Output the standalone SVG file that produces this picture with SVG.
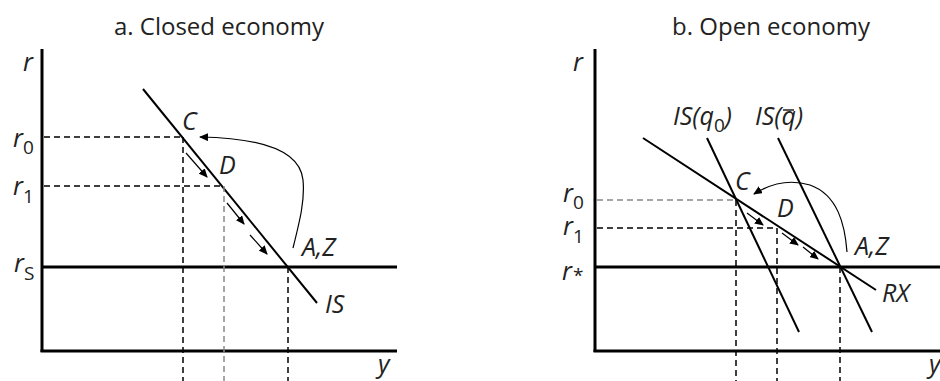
<svg xmlns="http://www.w3.org/2000/svg" width="940" height="381" viewBox="0 0 940 381">
<style>
.title{font-family:"Open Sans","Noto Sans",sans-serif;font-size:24px;fill:#222;text-anchor:middle}
.lbl{font-family:"Open Sans","Noto Sans",sans-serif;font-size:25px;font-style:italic;fill:#222}
.sub{font-size:19px;font-style:normal}
.axis{stroke:#000;stroke-width:3;fill:none}
.curve{stroke:#000;stroke-width:2;fill:none}
.dash{stroke:#000;stroke-width:1.5;stroke-dasharray:6 4;fill:none}
.dashg{stroke:#888;stroke-width:1.5;stroke-dasharray:6 4;fill:none}
.arr{stroke:#000;stroke-width:1.2;fill:none;marker-end:url(#ah)}
</style>
<defs>
<marker id="ah" markerUnits="userSpaceOnUse" markerWidth="10" markerHeight="8" refX="8" refY="4" orient="auto">
<path d="M0,0 L9,4 L0,8 Z" fill="#000"/>
</marker>
</defs>
<rect width="940" height="381" fill="#fff"/>

<g id="panel-a">
<text class="title" x="219" y="35">a. Closed economy</text>
<g id="a-axes">
<line class="axis" x1="42" y1="49" x2="42" y2="352"/>
<line class="axis" x1="40.5" y1="351" x2="397" y2="351"/>
<line class="axis" x1="42" y1="267" x2="397" y2="267"/>
</g>
<g id="a-IS"><line class="curve" x1="143" y1="89" x2="317" y2="303"/></g>
<g id="a-dashes">
<line class="dash" x1="44" y1="137" x2="183" y2="137"/>
<line class="dash" x1="44" y1="186" x2="224" y2="186"/>
<line class="dash" x1="183" y1="137" x2="183" y2="381"/>
<line class="dashg" x1="224" y1="186" x2="224" y2="381"/>
<line class="dash" x1="288" y1="267" x2="288" y2="381"/>
</g>
<g id="a-arrows">
<line class="arr" x1="186" y1="153" x2="207" y2="177"/>
<line class="arr" x1="227" y1="203" x2="244" y2="224"/>
<line class="arr" x1="250" y1="235" x2="267" y2="254"/>
<path class="arr" d="M293,248 C300,220 305,200 303,180 C300,150 260,138 200,137"/>
</g>
<g id="a-labels">
<text class="lbl" x="23" y="71">r</text>
<text class="lbl" x="13" y="147">r<tspan class="sub" x="23" y="154">0</tspan></text>
<text class="lbl" x="13" y="195">r<tspan class="sub" x="23" y="203">1</tspan></text>
<text class="lbl" x="14" y="272">r<tspan class="sub" x="24" y="280">S</tspan></text>
<text class="lbl" x="182" y="130">C</text>
<text class="lbl" x="219" y="174">D</text>
<text class="lbl" x="302" y="256">A,Z</text>
<text class="lbl" x="325" y="313">IS</text>
<text class="lbl" x="378" y="373">y</text>
</g>
</g>

<g id="panel-b">
<text class="title" x="771" y="35">b. Open economy</text>
<g id="b-axes">
<line class="axis" x1="595" y1="49" x2="595" y2="352"/>
<line class="axis" x1="593.5" y1="351" x2="940" y2="351"/>
<line class="axis" x1="595" y1="267" x2="940" y2="267"/>
</g>
<g id="b-lines">
<line class="curve" x1="643" y1="138" x2="876" y2="290"/>
<line class="curve" x1="707" y1="138" x2="799" y2="332"/>
<line class="curve" x1="778" y1="138" x2="872" y2="332"/>
</g>
<g id="b-dashes">
<line class="dashg" x1="597" y1="200" x2="736" y2="200"/>
<line class="dash" x1="597" y1="228" x2="777" y2="228"/>
<line class="dash" x1="736" y1="200" x2="736" y2="381"/>
<line class="dash" x1="777" y1="228" x2="777" y2="381"/>
<line class="dash" x1="840" y1="267" x2="840" y2="381"/>
</g>
<g id="b-arrows">
<line class="arr" x1="747" y1="213" x2="763" y2="225"/>
<line class="arr" x1="782" y1="233" x2="798" y2="245"/>
<line class="arr" x1="803" y1="247" x2="818" y2="259"/>
<path class="arr" d="M847,252 C845,225 838,195 810,185 C790,179 770,184 754,194"/>
</g>
<g id="b-labels">
<text class="lbl" x="573" y="71">r</text>
<text class="lbl" x="563" y="202">r<tspan class="sub" x="573" y="209">0</tspan></text>
<text class="lbl" x="563" y="235">r<tspan class="sub" x="573" y="243">1</tspan></text>
<text class="lbl" x="562" y="280">r<tspan class="sub" x="573" y="282">*</tspan></text>
<text class="lbl" x="673" y="125">IS(q<tspan class="sub" dy="7">0</tspan><tspan dy="-7">)</tspan></text>
<text class="lbl" x="755" y="125">IS(q)</text>
<line x1="783" y1="110" x2="794" y2="110" stroke="#222" stroke-width="1.5"/>
<text class="lbl" x="735" y="190">C</text>
<text class="lbl" x="777" y="217">D</text>
<text class="lbl" x="855" y="255">A,Z</text>
<text class="lbl" x="882" y="302">RX</text>
<text class="lbl" x="929" y="373">y</text>
</g>
</g>
</svg>
